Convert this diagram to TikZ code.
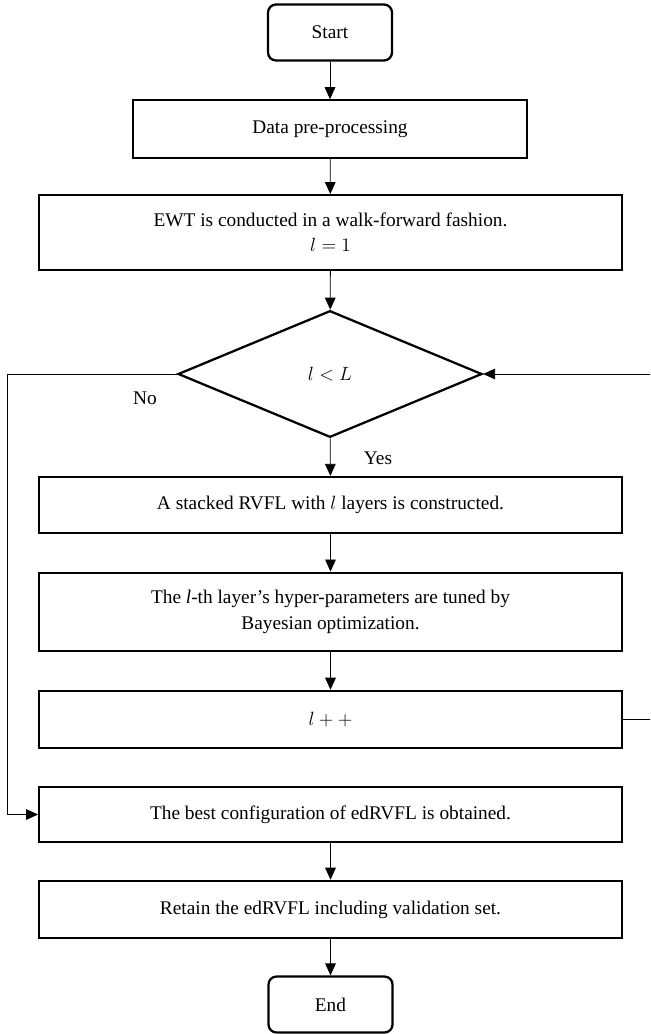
\documentclass[tikz,border=0pt]{standalone}
\usepackage{fontspec}
\setmainfont{Liberation Serif}
\usetikzlibrary{shapes.geometric,arrows.meta}

\begin{document}
\begin{tikzpicture}[x=0.75pt,y=-0.75pt,
	font=\fontsize{14.5}{19}\selectfont,
	box/.style={draw,line width=1.7pt,align=center,minimum width=437pt,inner sep=0pt},
	term/.style={draw,line width=1.7pt,rounded corners=6pt,minimum width=93pt,minimum height=42pt,inner sep=0pt},
	cond/.style={draw,diamond,line width=1.7pt,minimum width=228pt,minimum height=95pt,inner sep=0pt},
	arr/.style={-{Triangle[length=9pt,width=8pt]},line width=0.6pt}]
		\useasboundingbox (0,0) rectangle (650,1034);
		\clip (0,0) rectangle (650,1034);
		% main column
		\node [term] (start) at (330,32.5) {Start};
		\node [box,minimum width=295pt,minimum height=43pt] (data) at (330,129) {Data pre-processing};
		\node [box,minimum height=56pt] (ewt) at (330.5,232.5) {EWT is conducted in a walk-forward fashion.\\ $l=1$};
		\node [cond] (cond) at (330,374) {$l<L$};
		\node [box,minimum height=42pt] (rvfl) at (330.5,505) {A stacked RVFL with $l$ layers is constructed.};
		\node [box,minimum height=59pt] (lth) at (330.5,612) {The \textit{l}-th layer's hyper-parameters are tuned by\\ Bayesian optimization.};
		\node [box,minimum height=43pt] (lpp) at (330.5,719.5) {$l++$};
		\node [box,minimum height=41pt] (best) at (330.5,814.5) {The best configuration of edRVFL is obtained.};
		\node [box,minimum height=43pt] (retain) at (330.5,909.5) {Retain the edRVFL including validation set.};
		\node [term] (end) at (330.5,1004.5) {End};
		% labels
		\node (yes) at (378,458) {Yes};
		\node (no) at (145,398) {No};
		\coordinate (cl) at (7,374);
		\coordinate (cr) at (662,374);
		% arrows
		\draw [arr] (start) -- (data);
		\draw [arr] (data) -- (ewt);
		\draw [arr] (ewt) -- (cond);
		\draw [arr] (cond) -- (rvfl);
		\draw [arr] (rvfl) -- (lth);
		\draw [arr] (lth) -- (lpp);
		\draw [arr] (best) -- (retain);
		\draw [arr] (retain) -- (end);
		\draw [arr] (cond.west) -- (cl) |- (best.west);
		\draw [arr] (lpp.east) -| (cr) -- (cond.east);
	\end{tikzpicture}
\end{document}
